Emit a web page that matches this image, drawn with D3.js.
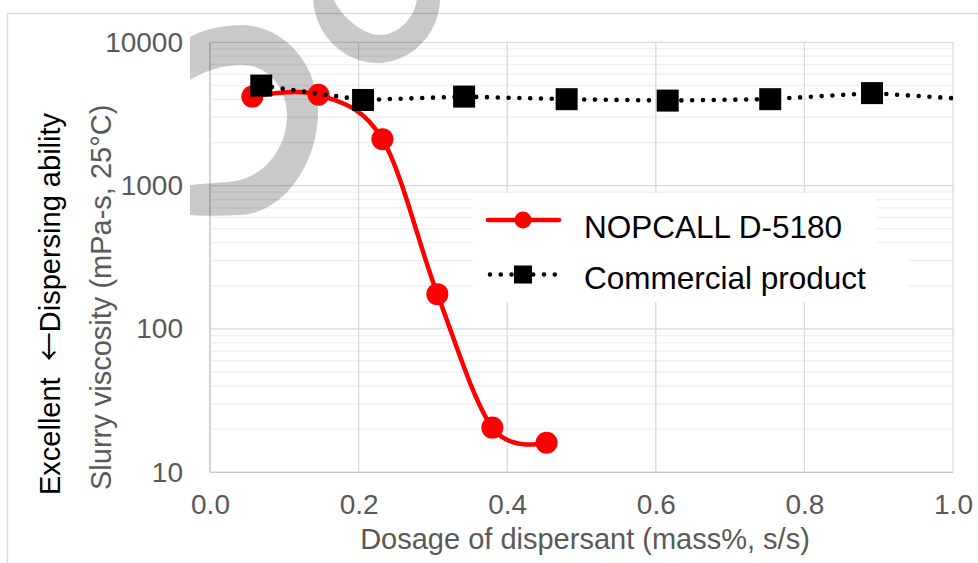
<!DOCTYPE html>
<html>
<head>
<meta charset="utf-8">
<script src="https://cdn.jsdelivr.net/npm/d3@7"></script>
<style>
  html, body { margin: 0; padding: 0; background: #fff; }
  svg { display: block; font-family: "Liberation Sans", Arial, sans-serif; }
</style>
</head>
<body>
<svg id="chart" width="978" height="563"></svg>
<script>
// ---- data ----
const nopcallX = [0.057, 0.146, 0.232, 0.306, 0.380, 0.453];
const nopcallY = [4180, 4300, 2110, 175, 20.5, 16.1];
const commercialX = [0.069, 0.206, 0.342, 0.480, 0.616, 0.754, 0.891, 1.027];
const commercialY = [4990, 3960, 4180, 4010, 3920, 4010, 4420, 3990];
const xTickValues = [0, 0.2, 0.4, 0.6, 0.8, 1.0];
const yTickValues = [10, 100, 1000, 10000];
const seriesNames = ["NOPCALL D-5180", "Commercial product"];
const xTitle = "Dosage of dispersant (mass%, s/s)";
const yTitle = "Slurry viscosity (mPa-s, 25°C)";
const yTitle2Parts = ["Excellent\u00a0 ", "\u2190", "Dispersing ability"];

// ---- layout ----
const pLeft = 210, pRight = 953, pTop = 42.3, pBottom = 472.3;
const svg = d3.select("#chart");

const x = d3.scaleLinear().domain([0, 1]).range([pLeft, pRight]);
const y = d3.scaleLog().domain([10, 10000]).range([pBottom, pTop]);

// outer chart border
svg.append("rect").attr("x", 7.5).attr("y", 13.5).attr("width", 1100).attr("height", 1100)
  .attr("fill", "none").attr("stroke", "#d9d9d9").attr("stroke-width", 1.3);

// minor horizontal gridlines
const minorVals = [];
[10, 100, 1000].forEach(d => { for (let k = 2; k <= 9; k++) minorVals.push(d * k); });
svg.append("g").selectAll("line").data(minorVals).join("line")
  .attr("x1", pLeft).attr("x2", pRight)
  .attr("y1", d => y(d)).attr("y2", d => y(d))
  .attr("stroke", "#efefef").attr("stroke-width", 1.3);

// major gridlines
svg.append("g").selectAll("line").data(yTickValues).join("line")
  .attr("x1", pLeft).attr("x2", pRight)
  .attr("y1", d => y(d)).attr("y2", d => y(d))
  .attr("stroke", "#d9d9d9").attr("stroke-width", 1.3);
svg.append("g").selectAll("line").data(xTickValues).join("line")
  .attr("x1", d => x(d)).attr("x2", d => x(d))
  .attr("y1", pTop).attr("y2", pBottom)
  .attr("stroke", "#d9d9d9").attr("stroke-width", 1.3);

// axis lines
svg.append("line").attr("x1", pLeft).attr("x2", pLeft).attr("y1", pTop).attr("y2", pBottom)
  .attr("stroke", "#c8c8c8").attr("stroke-width", 1.3);
svg.append("line").attr("x1", pLeft).attr("x2", pRight).attr("y1", pBottom).attr("y2", pBottom)
  .attr("stroke", "#c8c8c8").attr("stroke-width", 1.3);

// watermark shapes (decoration)
const wm = svg.append("g").attr("fill", "#000").attr("fill-opacity", 0.21).attr("fill-rule", "evenodd");
wm.append("path").attr("d",
  "M190,37 C200,31 220,25 242,25 C280,25 318,60 318,112 C318,165 282,214 240,215 C220,216 200,216 190,215 Z " +
  "M190,80 C205,71 222,65 242,65 C268,65 287,88 287,115 C287,150 262,180 228,182 C212,183 200,184 190,185 Z");
wm.append("path").attr("d",
  "M313,-2 C314,35 345,63 377,63 C410,63 440,35 440,-2 Z " +
  "M333,-2 C340,15 362,35 380,35 C400,35 416,15 417,-2 Z");

// axes tick labels
const yAxis = d3.axisLeft(y).tickValues(yTickValues).tickFormat(d3.format("d")).tickSize(0).tickPadding(27);
const gy = svg.append("g").attr("transform", `translate(${pLeft},0)`).call(yAxis);
gy.select(".domain").remove();
gy.selectAll("text").attr("font-size", 28).attr("fill", "#595959")
  .attr("font-family", "'Liberation Sans', Arial, sans-serif");

const xAxis = d3.axisBottom(x).tickValues(xTickValues).tickFormat(d3.format(".1f")).tickSize(0).tickPadding(22);
const gx = svg.append("g").attr("transform", `translate(0,${pBottom})`).call(xAxis);
gx.select(".domain").remove();
gx.selectAll("text").attr("font-size", 28).attr("fill", "#595959")
  .attr("font-family", "'Liberation Sans', Arial, sans-serif");

// axis titles
svg.append("text").attr("x", 585).attr("y", 549).attr("text-anchor", "middle")
  .attr("font-size", 29).attr("fill", "#595959").text(xTitle);
svg.append("text").attr("transform", "translate(111,490) rotate(-90)")
  .attr("font-size", 29).attr("fill", "#595959").text(yTitle);
const t2 = svg.append("text").attr("transform", "translate(60,495) rotate(-90)")
  .attr("font-size", 29).attr("fill", "#000").style("white-space", "pre");
t2.append("tspan").text(yTitle2Parts[0]);
t2.append("tspan").attr("font-family", "'Noto Sans CJK JP', sans-serif").text(yTitle2Parts[1]);
t2.append("tspan").text(yTitle2Parts[2]);

// clip to plot area
svg.append("clipPath").attr("id", "plotclip").append("rect")
  .attr("x", pLeft).attr("y", pTop).attr("width", pRight - pLeft).attr("height", pBottom - pTop);
const plot = svg.append("g").attr("clip-path", "url(#plotclip)");

const nopData = nopcallX.map((v, i) => [v, nopcallY[i]]);
const comData = commercialX.map((v, i) => [v, commercialY[i]]);

// NOPCALL series (smoothed)
plot.append("path").datum(nopData)
  .attr("d", d3.line().x(d => x(d[0])).y(d => y(d[1])).curve(d3.curveCardinal.tension(0)))
  .attr("fill", "none").attr("stroke", "#ff0000").attr("stroke-width", 4.5);
plot.append("g").selectAll("circle").data(nopData).join("circle")
  .attr("cx", d => x(d[0])).attr("cy", d => y(d[1])).attr("r", 11)
  .attr("fill", "#ff0000");

// Commercial product series (dotted)
plot.append("path").datum(comData)
  .attr("d", d3.line().x(d => x(d[0])).y(d => y(d[1])))
  .attr("fill", "none").attr("stroke", "#000").attr("stroke-width", 4.6)
  .attr("stroke-linecap", "round").attr("stroke-dasharray", "0 10.8");
plot.append("g").selectAll("rect").data(comData).join("rect")
  .attr("x", d => x(d[0]) - 11).attr("y", d => y(d[1]) - 11)
  .attr("width", 22).attr("height", 22).attr("fill", "#000");

// legend
const lg = svg.append("g");
lg.append("rect").attr("x", 473).attr("y", 193).attr("width", 404).attr("height", 59).attr("fill", "#fff");
lg.append("rect").attr("x", 473).attr("y", 251).attr("width", 435).attr("height", 51).attr("fill", "#fff");
lg.append("line").attr("x1", 488).attr("x2", 559).attr("y1", 220).attr("y2", 220)
  .attr("stroke", "#ff0000").attr("stroke-width", 4.5).attr("stroke-linecap", "round");
lg.append("circle").attr("cx", 523).attr("cy", 220).attr("r", 8.5).attr("fill", "#ff0000");
lg.append("line").attr("x1", 490).attr("x2", 559).attr("y1", 274.5).attr("y2", 274.5)
  .attr("stroke", "#000").attr("stroke-width", 4.6).attr("stroke-linecap", "round")
  .attr("stroke-dasharray", "0 10.8");
lg.append("rect").attr("x", 514).attr("y", 265.5).attr("width", 18).attr("height", 18).attr("fill", "#000");
lg.append("text").attr("x", 584).attr("y", 237.5).attr("font-size", 31.5).attr("fill", "#000").text(seriesNames[0]);
lg.append("text").attr("x", 584).attr("y", 288.5).attr("font-size", 31.5).attr("fill", "#000").text(seriesNames[1]);
</script>
</body>
</html>
